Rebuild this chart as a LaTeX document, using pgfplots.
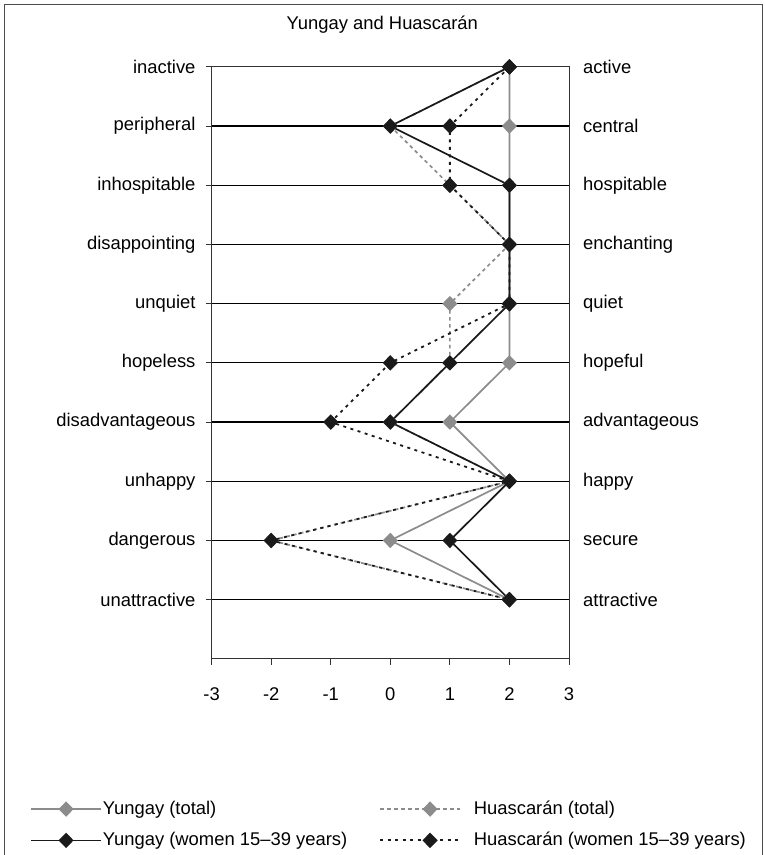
\documentclass[border=0pt]{standalone}
\usepackage{pgfplots}
\pgfplotsset{compat=1.18}
\usepackage{fontspec}
\setmainfont{Liberation Sans}
\definecolor{totgray}{HTML}{8C8C8C}
\definecolor{wblack}{HTML}{1A1A1A}
\begin{document}
\fontsize{18.5}{22}\selectfont
\begin{tikzpicture}
% page frame
\path (0bp,0bp) rectangle (766bp,-855bp);
\draw[black!70, line width=1bp] (4.5bp,-856bp) -- (4.5bp,-4.5bp) -- (763.5bp,-4.5bp) -- (763.5bp,-856bp);
\node[anchor=base] at (383bp,-30bp) {Yungay and Huascarán};

\pgfplotsset{
  chartbase/.style={
    at={(212bp,-660bp)}, anchor=south west,
    width=358bp, height=593bp, scale only axis,
    xmin=-3, xmax=3, ymin=0, ymax=10,
    ytick={1,...,10},
    axis line style={black!80, line width=1bp},
    tick style={black!80, line width=1bp},
    /pgf/number format/assume math mode=true,
  },
  dmark/.style={mark=diamond*, mark size=6.5bp, mark options={xscale=1.3, solid, fill=#1, draw=#1}},
  solidleg/.style={legend image code/.code={\draw[mark repeat=2, mark phase=2, ##1] plot coordinates {(0bp,0bp) (35bp,0bp) (70bp,0bp)};}},
  dashleg/.style={legend image code/.code={\draw[mark repeat=2, mark phase=2, ##1] plot coordinates {(0bp,0bp) (50bp,0bp) (81bp,0bp)}; \path (92bp,0bp);}},
}

\begin{axis}[chartbase,
    xtick={-3,...,3},
    xtick pos=bottom, ytick pos=left,
    tick align=outside,
    major tick length=6bp,
    ymajorgrids,
    grid style={black, line width=1.2bp},
    yticklabels={unattractive,dangerous,unhappy,disadvantageous,hopeless,unquiet,disappointing,inhospitable,peripheral,inactive},
    yticklabel style={anchor=east, inner sep=0pt, xshift=-10bp},
    xticklabel style={anchor=north, inner sep=0pt, yshift=-23bp},
    legend columns=2,
    legend cell align=left,
    legend style={at={(-0.508,-0.238)}, anchor=north west, draw=none, fill=none,
      inner sep=0pt, nodes={inner sep=1bp},
      /tikz/every even column/.append style={column sep=31bp},
      row sep=13bp},
  ]
\addplot[totgray, line width=1.7bp, dmark=totgray, solidleg] coordinates {
(2,10) (2,9) (2,8) (2,7) (2,6) (2,5) (1,4) (2,3) (0,2) (2,1)};
\addlegendentry{Yungay (total)}
\addplot[totgray, line width=1.7bp, dash pattern=on 3.5bp off 3.5bp, dmark=totgray, dashleg] coordinates {
(2,10) (0,9) (1,8) (2,7) (1,6) (1,5) (0,4) (2,3) (-2,2) (2,1)};
\addlegendentry{Huascarán (total)}
\addplot[wblack, line width=1.7bp, dmark=wblack, solidleg] coordinates {
(2,10) (0,9) (2,8) (2,7) (2,6) (1,5) (0,4) (2,3) (1,2) (2,1)};
\addlegendentry{Yungay (women 15–39 years)}
\addplot[wblack, line width=1.8bp, dash pattern=on 3bp off 4.5bp, dmark=wblack, dashleg] coordinates {
(2,10) (1,9) (1,8) (2,7) (2,6) (0,5) (-1,4) (2,3) (-2,2) (2,1)};
\addlegendentry{Huascarán (women 15–39 years)}
\end{axis}

\begin{axis}[chartbase,
    axis x line=none,
    axis y line*=right,
    major tick length=0pt,
    yticklabels={attractive,secure,happy,advantageous,hopeful,quiet,enchanting,hospitable,central,active},
    yticklabel style={anchor=west, inner sep=0pt, xshift=14bp},
  ]
\end{axis}
\end{tikzpicture}
\end{document}
